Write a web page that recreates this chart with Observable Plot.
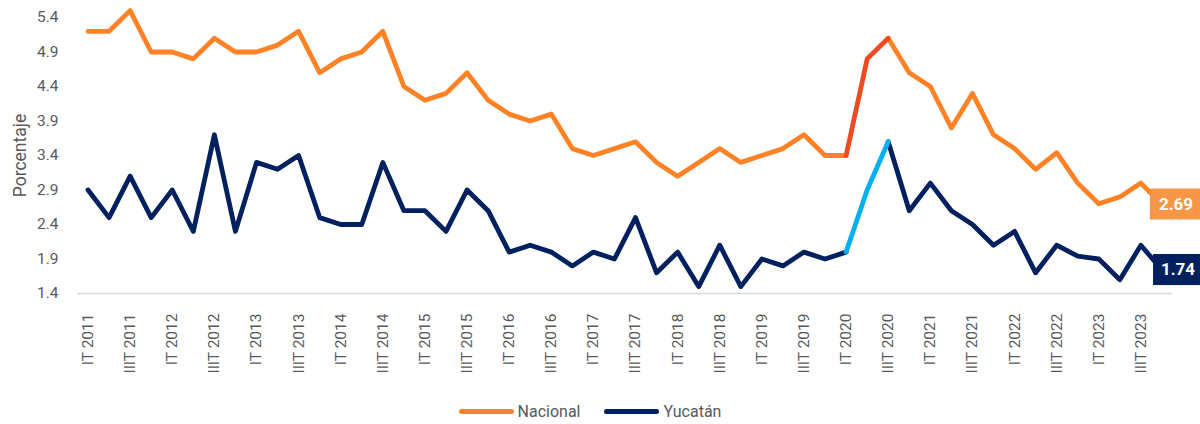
<!DOCTYPE html>
<html>
<head>
<meta charset="utf-8">
<script src="https://cdn.jsdelivr.net/npm/d3@7"></script>
<script src="https://cdn.jsdelivr.net/npm/@observablehq/plot@0.6"></script>
<style>
  html, body { margin: 0; padding: 0; background: #fff; }
  #chart { width: 1200px; height: 424px; overflow: hidden; font-family: Roboto, "Open Sans", sans-serif; }
  .legend { display: flex; justify-content: center; align-items: center; height: 30px; margin-top: 4px; gap: 24px; color: #595959; font-size: 16px; padding-right: 20px; }
  .legend .item { display: flex; align-items: center; gap: 4px; }
  .legend .sw { width: 55px; height: 5px; border-radius: 3px; display: inline-block; }
</style>
</head>
<body>
<div id="chart"></div>
<script>
const years = [2011, 2012, 2013, 2014, 2015, 2016, 2017, 2018, 2019, 2020, 2021, 2022, 2023];
const quarterNames = ["IT", "IIT", "IIIT", "IVT"];
const nacional = [
  5.2, 5.2, 5.5, 4.9, 4.9, 4.8, 5.1, 4.9, 4.9, 5.0,
  5.2, 4.6, 4.8, 4.9, 5.2, 4.4, 4.2, 4.3, 4.6, 4.2,
  4.0, 3.9, 4.0, 3.5, 3.4, 3.5, 3.6, 3.3, 3.1, 3.3,
  3.5, 3.3, 3.4, 3.5, 3.7, 3.4, 3.4, 4.8, 5.1, 4.6,
  4.4, 3.8, 4.3, 3.7, 3.5, 3.2, 3.44, 3.0, 2.7, 2.8,
  3.0, 2.69
];
const yucatan = [
  2.9, 2.5, 3.1, 2.5, 2.9, 2.3, 3.7, 2.3, 3.3, 3.2,
  3.4, 2.5, 2.4, 2.4, 3.3, 2.6, 2.6, 2.3, 2.9, 2.6,
  2.0, 2.1, 2.0, 1.8, 2.0, 1.9, 2.5, 1.7, 2.0, 1.5,
  2.1, 1.5, 1.9, 1.8, 2.0, 1.9, 2.0, 2.9, 3.6, 2.6,
  3.0, 2.6, 2.4, 2.1, 2.3, 1.7, 2.1, 1.94, 1.9, 1.6,
  2.1, 1.74
];
const yTicks = [1.4, 1.9, 2.4, 2.9, 3.4, 3.9, 4.4, 4.9, 5.4];
const highlightStart = "IT 2020";
const highlightEnd = "IIIT 2020";

const colors = { nacional: "#FF8326", yucatan: "#002060", nacionalHi: "#F04A23", yucatanHi: "#00B0F0",
                 nacionalBox: "#F79646", yucatanBox: "#002060" };

const quarters = [];
years.forEach(y => quarterNames.forEach(q => quarters.push(`${q} ${y}`)));
const hs = quarters.indexOf(highlightStart), he = quarters.indexOf(highlightEnd);

const natData = nacional.map((v, i) => ({ i, v }));
const yucData = yucatan.map((v, i) => ({ i, v }));

function series(data, base, hi) {
  const opts = { x: "i", y: "v", strokeWidth: 4.8, strokeLinejoin: "round", strokeLinecap: "round" };
  return [
    Plot.line(data.filter(d => d.i <= hs), { ...opts, stroke: base }),
    Plot.line(data.filter(d => d.i >= he), { ...opts, stroke: base }),
    Plot.line(data.filter(d => d.i >= hs && d.i <= he), { ...opts, stroke: hi })
  ];
}

const lastN = [natData[natData.length - 1]];
const lastY = [yucData[yucData.length - 1]];

const plot = Plot.plot({
  width: 1200,
  height: 392,
  marginLeft: 77,
  marginRight: 28,
  marginTop: 17,
  marginBottom: 99,
  style: { fontFamily: "Roboto, 'Open Sans', sans-serif", fontSize: "15.5px", color: "#595959", background: "#fff", overflow: "visible" },
  x: { domain: [-0.5, quarters.length - 0.5] },
  y: { domain: [1.4, 5.4] },
  marks: [
    Plot.ruleY([1.4], { stroke: "#D9D9D9", strokeWidth: 1.5 }),
    Plot.axisY({ ticks: yTicks, tickFormat: d3.format(".1f"), tickSize: 0, tickPadding: 19, label: null, fontSize: 15.5 }),
    Plot.axisY({ ticks: [], tickSize: 0, label: "Porcentaje", labelAnchor: "center", labelArrow: "none", labelOffset: 64, fontSize: 17.5 }),
    Plot.axisX({ ticks: quarters.map((q, i) => i).filter(i => i % 2 === 0), tickFormat: i => quarters[i], tickRotate: -90, tickSize: 0, tickPadding: 20, label: null, fontSize: 15.5 }),
    ...series(natData, colors.nacional, colors.nacionalHi),
    ...series(yucData, colors.yucatan, colors.yucatanHi),
    Plot.rect(lastN, { x1: d => d.i - 0.55, x2: d => d.i + 1.9, y1: d => d.v - 0.225, y2: d => d.v + 0.225, fill: colors.nacionalBox, clip: false }),
    Plot.rect(lastY, { x1: d => d.i - 0.4, x2: d => d.i + 1.9, y1: d => d.v - 0.225, y2: d => d.v + 0.225, fill: colors.yucatanBox, clip: false }),
    Plot.text(lastN, { x: "i", y: "v", text: d => d.v.toFixed(2), dx: 14, fill: "white", fontWeight: "bold", fontSize: 17 }),
    Plot.text(lastY, { x: "i", y: "v", text: d => d.v.toFixed(2), dx: 16, fill: "white", fontWeight: "bold", fontSize: 17 })
  ]
});

const root = document.getElementById("chart");
root.appendChild(plot);
const legend = document.createElement("div");
legend.className = "legend";
legend.innerHTML = `
  <div class="item"><span class="sw" style="background:${colors.nacional}"></span><span>Nacional</span></div>
  <div class="item"><span class="sw" style="background:${colors.yucatan}"></span><span>Yucatán</span></div>`;
root.appendChild(legend);
</script>
</body>
</html>
